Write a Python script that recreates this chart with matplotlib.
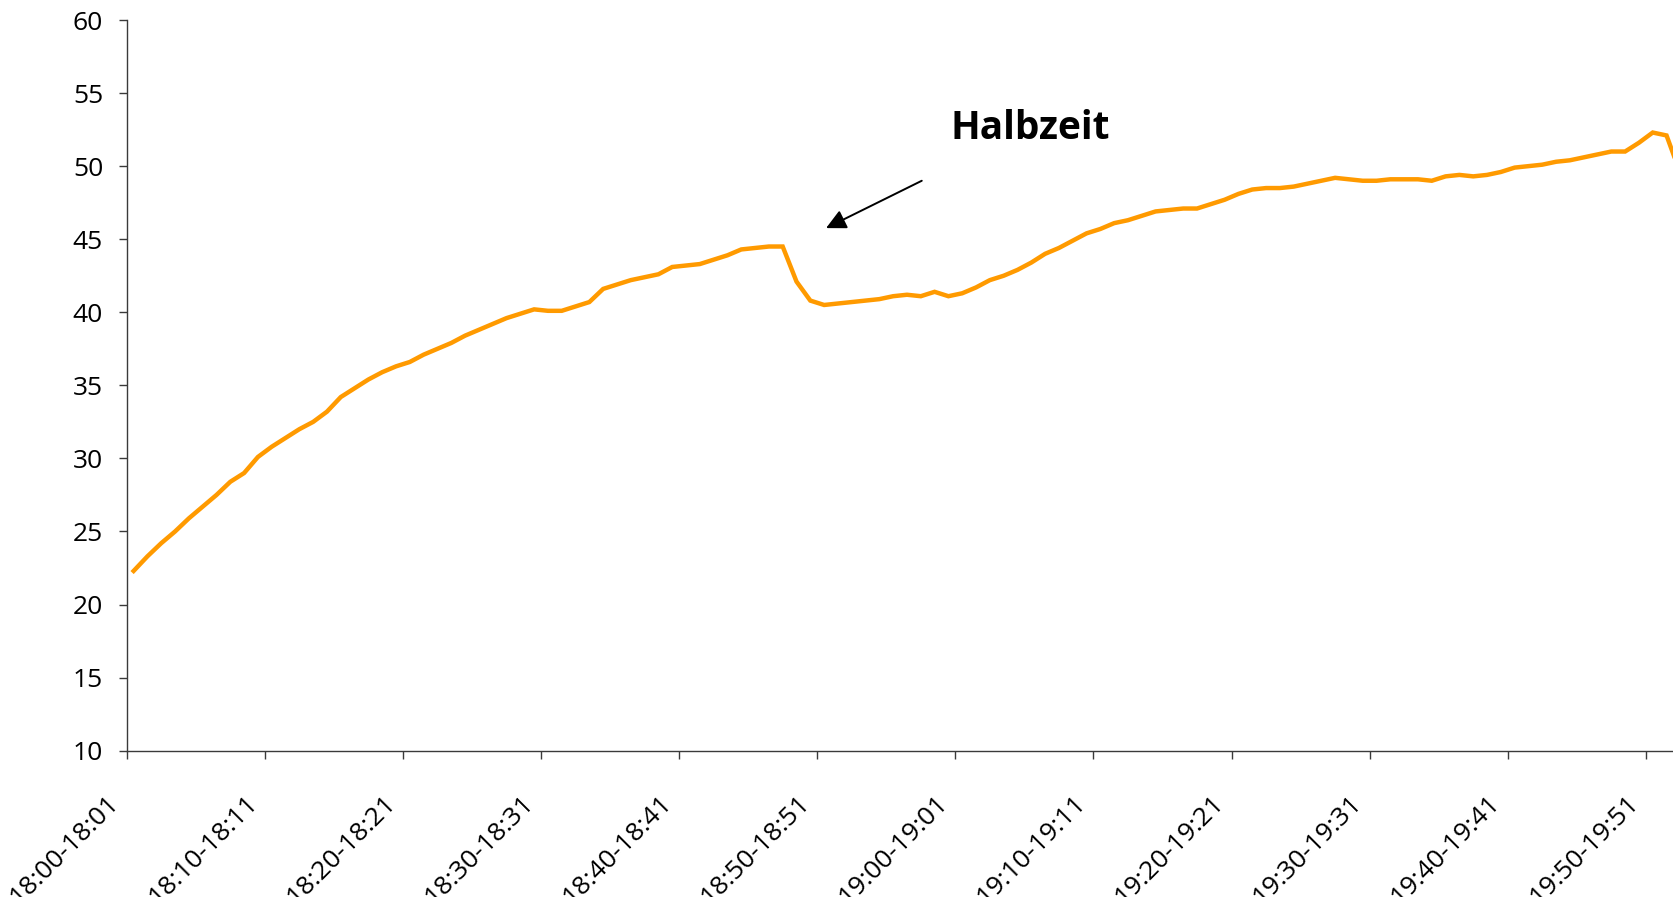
import matplotlib
matplotlib.use("Agg")
import matplotlib.pyplot as plt
import numpy as np

# Share per minute, 18:00-18:01 onwards
values = [
    22.3, 23.3, 24.2, 25.0, 25.9, 26.7, 27.5, 28.4, 29.0, 30.1,
    30.8, 31.4, 32.0, 32.5, 33.2, 34.2, 34.8, 35.4, 35.9, 36.3,
    36.6, 37.1, 37.5, 37.9, 38.4, 38.8, 39.2, 39.6, 39.9, 40.2,
    40.1, 40.1, 40.4, 40.7, 41.6, 41.9, 42.2, 42.4, 42.6, 43.1,
    43.2, 43.3, 43.6, 43.9, 44.3, 44.4, 44.5, 44.5, 42.1, 40.8,
    40.5, 40.6, 40.7, 40.8, 40.9, 41.1, 41.2, 41.1, 41.4, 41.1,
    41.3, 41.7, 42.2, 42.5, 42.9, 43.4, 44.0, 44.4, 44.9, 45.4,
    45.7, 46.1, 46.3, 46.6, 46.9, 47.0, 47.1, 47.1, 47.4, 47.7,
    48.1, 48.4, 48.5, 48.5, 48.6, 48.8, 49.0, 49.2, 49.1, 49.0,
    49.0, 49.1, 49.1, 49.1, 49.0, 49.3, 49.4, 49.3, 49.4, 49.6,
    49.9, 50.0, 50.1, 50.3, 50.4, 50.6, 50.8, 51.0, 51.0, 51.6,
    52.3, 52.1, 49.5,
]
tick_labels = ["18:00-18:01", "18:10-18:11", "18:20-18:21", "18:30-18:31",
               "18:40-18:41", "18:50-18:51", "19:00-19:01", "19:10-19:11",
               "19:20-19:21", "19:30-19:31", "19:40-19:41", "19:50-19:51"]
label_every = 10
y_ticks = [10, 15, 20, 25, 30, 35, 40, 45, 50, 55, 60]

ORANGE = "#FF9A00"
AXIS = "#3A3A3A"
FONT = "Open Sans"

fig = plt.figure(figsize=(16.74, 8.97), dpi=100)
ax = fig.add_axes([0.0757, 0.1631, 0.9243, 0.8146])

x = np.arange(len(values))
ax.plot(x, values, color=ORANGE, linewidth=3.2, solid_joinstyle="miter")

ax.set_xlim(-0.5, 111.54)
ax.set_ylim(10, 60)

for side in ("top", "right"):
    ax.spines[side].set_visible(False)
for side in ("left", "bottom"):
    ax.spines[side].set_color(AXIS)
    ax.spines[side].set_linewidth(1.0)

# y axis
ax.set_yticks(y_ticks)
ax.set_yticklabels([str(v) for v in y_ticks], fontsize=19, family=FONT)
ax.tick_params(axis="y", length=6, width=1.0, color=AXIS, pad=11)

# x axis: tick marks between categories, labels on category centres
label_pos = x[::label_every][:len(tick_labels)]
ax.set_xticks(label_pos - 0.5, minor=True)
ax.set_xticks([])
ax.tick_params(axis="x", which="minor", length=6, width=1.0, color=AXIS)
for pos, lab in zip(label_pos, tick_labels):
    ax.annotate(lab, xy=(pos, 0), xycoords=("data", "axes fraction"),
                xytext=(-13, -35), textcoords="offset points",
                rotation=45, ha="right", va="center", rotation_mode="anchor",
                fontsize=19, family=FONT, annotation_clip=False)

# half-time annotation
ax.text(59.15, 51.83, "Halbzeit", fontsize=28, fontweight="bold", family=FONT,
        va="baseline", ha="left")
ax.annotate("", xy=(50.14, 45.76), xytext=(57.07, 49.0),
            arrowprops=dict(arrowstyle="-|>", color="black", lw=1.4,
                            mutation_scale=30, shrinkA=0, shrinkB=0))

fig.savefig("out.png", dpi=100)
